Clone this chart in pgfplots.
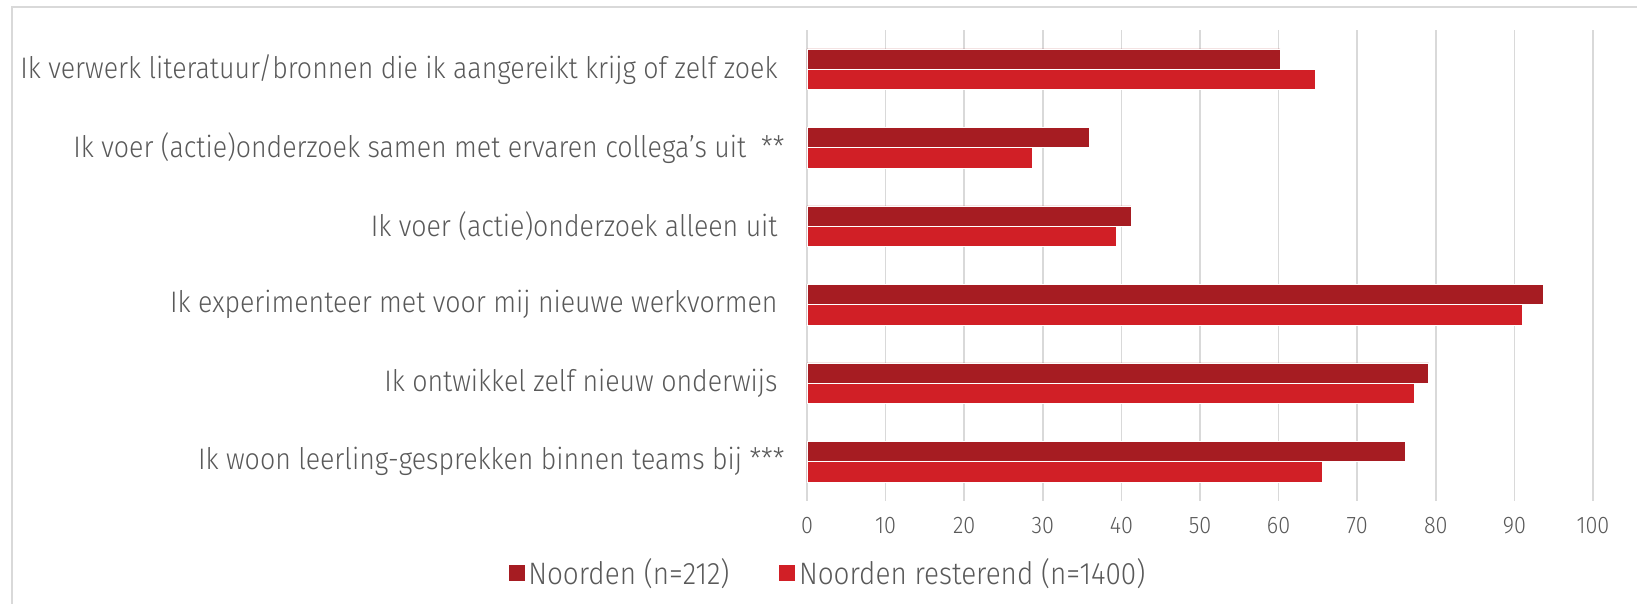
\documentclass[border=0pt]{standalone}
\usepackage{fontspec}
\setmainfont{Fira Sans Light}[FakeStretch=0.9]
\usepackage{pgfplots}
\pgfplotsset{compat=1.18}
\definecolor{darkred}{RGB}{166,28,34}
\definecolor{lightred}{RGB}{209,31,38}
\definecolor{txt}{RGB}{89,89,89}
\definecolor{gridgray}{RGB}{217,217,217}
\begin{document}
\begin{tikzpicture}
% fixed page size: 1 px of the reference = 0.5pt, origin at the plot's lower left corner
\path[use as bounding box] (-403.5pt,-51.5pt) rectangle (415pt,250.5pt);
% chart border (left and top edges visible)
\draw[gridgray, line width=1pt] (-397.6pt,-60pt) -- (-397.6pt,247.1pt) -- (430pt,247.1pt);
\begin{axis}[
    at={(0pt,0pt)}, anchor=south west,
    scale only axis, width=393pt, height=235.5pt,
    xbar, bar width=10.2pt,
    xmin=0, xmax=100, ymin=-0.5, ymax=5.5,
    xtick={0,10,...,100},
    ytick={0,1,2,3,4,5},
    yticklabels={
        Ik woon leerling-gesprekken binnen teams bij ***,
        Ik ontwikkel zelf nieuw onderwijs\hspace*{3.5pt},
        Ik experimenteer met voor mij nieuwe werkvormen\hspace*{3.5pt},
        Ik voer (actie)onderzoek alleen uit\hspace*{3.5pt},
        Ik voer (actie)onderzoek samen met ervaren collega's uit\ \ **,
        Ik verwerk literatuur/bronnen die ik aangereikt krijg of zelf zoek\hspace*{3.5pt}},
    axis line style={draw=none},
    major tick length=0pt,
    xmajorgrids=true,
    grid style={gridgray, line width=0.8pt},
    /pgf/number format/assume math mode=true,
    xticklabel style={font=\fontsize{12}{14}\selectfont, text=txt, anchor=center, yshift=-12.5pt},
    yticklabel style={font=\fontsize{14.85}{17}\selectfont, text=txt, anchor=east, inner sep=0pt, xshift=-11pt},
    legend columns=2,
    legend style={at={(0.028,-0.153)}, anchor=center, draw=none, fill=none,
        font=\fontsize{15.5}{17}\selectfont, text=txt, inner sep=0pt,
        /tikz/every even column/.append style={column sep=23pt}},
]
\addplot[fill=darkred, draw=white, line width=0.3pt, bar shift=5.1pt,
    legend image code/.code={\fill[darkred] (0pt,-3.75pt) rectangle (7.5pt,3.75pt);}]
    coordinates {(76.1,0) (79.1,1) (93.7,2) (41.2,3) (35.9,4) (60.2,5)};
\addlegendentry{Noorden (n=212)}
\addplot[fill=lightred, draw=white, line width=0.3pt, bar shift=-5.1pt,
    legend image code/.code={\fill[lightred] (0pt,-3.75pt) rectangle (7.5pt,3.75pt);}]
    coordinates {(65.5,0) (77.3,1) (91.0,2) (39.4,3) (28.7,4) (64.7,5)};
\addlegendentry{Noorden resterend (n=1400)}
\end{axis}
\end{tikzpicture}
\end{document}
